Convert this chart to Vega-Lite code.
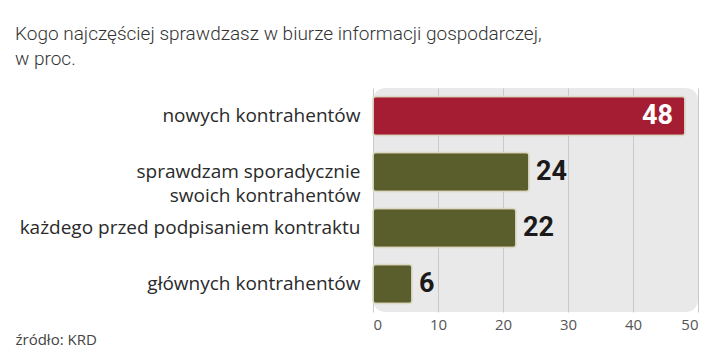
{
  "$schema": "https://vega.github.io/schema/vega-lite/v6.json",
  "autosize": "none",
  "width": 325,
  "height": 224,
  "padding": {"left": 373, "top": 88, "right": 22, "bottom": 47},
  "background": "white",
  "title": {
    "text": ["Kogo najczęściej sprawdzasz w biurze informacji gospodarczej,", "w proc."],
    "anchor": "start",
    "frame": "group",
    "dx": -358,
    "dy": 3,
    "font": "Roboto",
    "fontWeight": 300,
    "fontSize": 19,
    "lineHeight": 25,
    "color": "#333333",
    "offset": 22
  },
  "config": {
    "view": {"fill": "#e9e9e9", "stroke": null, "cornerRadius": 12}
  },
  "data": {
    "values": [
      {"kategoria": "nowych kontrahentów", "wartosc": 48, "wyroznienie": "tak"},
      {"kategoria": "sprawdzam sporadycznie|swoich kontrahentów", "wartosc": 24, "wyroznienie": "nie"},
      {"kategoria": "każdego przed podpisaniem kontraktu", "wartosc": 22, "wyroznienie": "nie"},
      {"kategoria": "głównych kontrahentów", "wartosc": 6, "wyroznienie": "nie"}
    ]
  },
  "encoding": {
    "y": {
      "field": "kategoria",
      "type": "nominal",
      "sort": null,
      "scale": {"paddingInner": 0.3, "paddingOuter": 0.15},
      "axis": {
        "title": null,
        "domain": false,
        "ticks": false,
        "labelExpr": "split(datum.value, '|')",
        "labelFont": "Open Sans",
        "labelFontSize": 19,
        "labelColor": "#2a2a2a",
        "labelPadding": 13,
        "labelLimit": 0,
        "labelLineHeight": 24
      }
    },
    "x": {
      "field": "wartosc",
      "type": "quantitative",
      "scale": {"domain": [0, 50], "nice": false},
      "axis": {
        "values": [0, 10, 20, 30, 40, 50],
        "domain": false,
        "ticks": false,
        "grid": true,
        "gridColor": "#c9c9c9",
        "gridWidth": 1,
        "labelFont": "Open Sans",
        "labelFontSize": 15,
        "labelColor": "#555555",
        "labelPadding": 5,
        "title": "źródło: KRD",
        "titleFont": "Open Sans",
        "titleFontWeight": "normal",
        "titleFontSize": 15,
        "titleColor": "#444444",
        "titleAlign": "left",
        "titleAnchor": "start",
        "titleBaseline": "alphabetic",
        "titleX": -358,
        "titleY": 32
      }
    }
  },
  "layer": [
    {
      "mark": {"type": "bar", "cornerRadius": 3, "stroke": "#dcd8c4", "strokeWidth": 1.5},
      "encoding": {
        "color": {
          "field": "wyroznienie",
          "type": "nominal",
          "scale": {"domain": ["tak", "nie"], "range": ["#a51d32", "#5a5e2c"]},
          "legend": null
        }
      }
    },
    {
      "transform": [{"filter": "datum.wyroznienie == 'tak'"}],
      "mark": {"type": "text", "align": "right", "dx": -12, "font": "Roboto", "fontWeight": "bold", "fontSize": 27, "color": "white", "baseline": "middle"},
      "encoding": {"text": {"field": "wartosc", "type": "quantitative"}}
    },
    {
      "transform": [{"filter": "datum.wyroznienie == 'nie'"}],
      "mark": {"type": "text", "align": "left", "dx": 7, "font": "Roboto", "fontWeight": "bold", "fontSize": 27, "color": "#1a1a1a", "baseline": "middle"},
      "encoding": {"text": {"field": "wartosc", "type": "quantitative"}}
    }
  ]
}
